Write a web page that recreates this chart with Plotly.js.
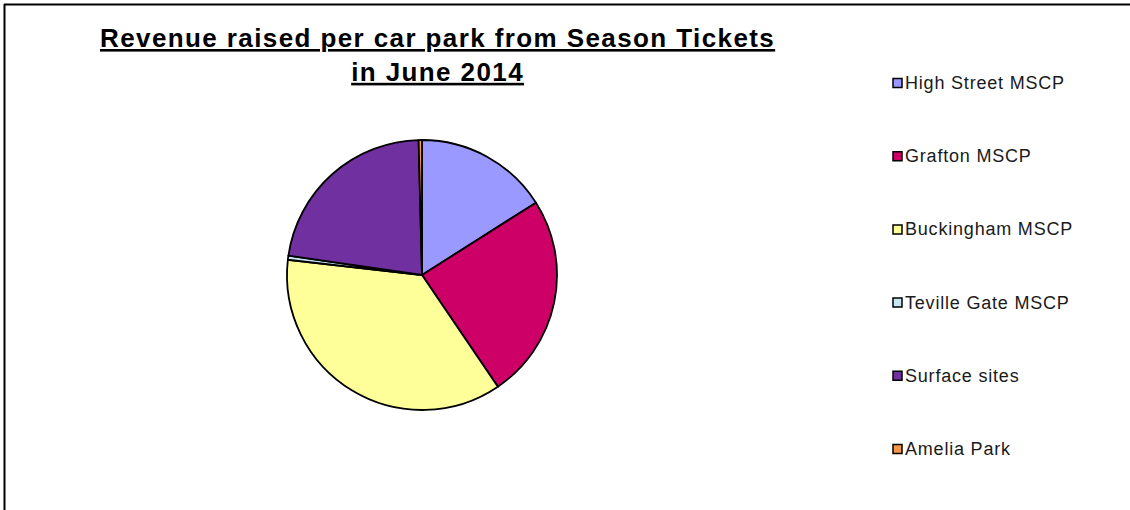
<!DOCTYPE html>
<html>
<head>
<meta charset="utf-8">
<script src="https://cdn.plot.ly/plotly-3.0.1.min.js"></script>
<style>
  html, body { margin: 0; padding: 0; background: #fff; }
  #chart { width: 1130px; height: 510px; }
</style>
</head>
<body>
<div id="chart"></div>
<script>
// Data (share of season-ticket revenue, %)
const categories = ["High Street MSCP", "Grafton MSCP", "Buckingham MSCP", "Teville Gate MSCP", "Surface sites", "Amelia Park"];
const values = [16.0, 24.5, 36.3, 0.5, 22.3, 0.4];
const colors = ["#9999FF", "#CC0066", "#FFFF99", "#C6E6F2", "#7030A0", "#F79646"];
const titleLines = ["Revenue raised per car park from Season Tickets", "in June 2014"];

const W = 1130, H = 510;
const px = x => x / W;
const py = y => 1 - y / H;

// Pie placement
const cx = 422, cy = 275, r = 135;

const shapes = [
  {type: 'line', xref: 'paper', yref: 'paper', x0: px(4), x1: px(1130), y0: py(4.5), y1: py(4.5), line: {color: '#000', width: 2}},
  {type: 'line', xref: 'paper', yref: 'paper', x0: px(4.5), x1: px(4.5), y0: py(4), y1: py(510), line: {color: '#000', width: 2}}
];
const annotations = [];

// Title
annotations.push({
  xref: 'paper', yref: 'paper', x: px(437), y: py(55),
  xanchor: 'center', yanchor: 'middle', showarrow: false,
  text: titleLines.map(t => '<span style="letter-spacing:1.4px"><b><u>' + t + '</u></b></span>').join('<br>'),
  font: {family: 'Liberation Sans, Arial, sans-serif', size: 26, color: '#000'}
});

// Custom legend
const legX = 893, legY0 = 83, legGap = 73.2, sq = 9;
categories.forEach((c, i) => {
  const yc = legY0 + i * legGap;
  shapes.push({type: 'rect', xref: 'paper', yref: 'paper',
    x0: px(legX), x1: px(legX + sq), y0: py(yc - sq / 2), y1: py(yc + sq / 2),
    fillcolor: colors[i], line: {color: '#000', width: 1.5}});
  annotations.push({xref: 'paper', yref: 'paper', x: px(legX + sq + 1), y: py(yc),
    xanchor: 'left', yanchor: 'middle', showarrow: false,
    text: '<span style="letter-spacing:0.8px">' + c + '</span>',
    font: {family: 'Liberation Sans, Arial, sans-serif', size: 18, color: '#1a1a1a'}});
});

const trace = {
  type: 'pie',
  labels: categories,
  values: values,
  sort: false,
  direction: 'clockwise',
  rotation: 0,
  textinfo: 'none',
  hoverinfo: 'label+percent',
  marker: {colors: colors, line: {color: '#000', width: 1.8}},
  domain: {x: [px(cx - r), px(cx + r)], y: [py(cy + r), py(cy - r)]},
  showlegend: false
};

const layout = {
  width: W, height: H,
  margin: {l: 0, r: 0, t: 0, b: 0},
  paper_bgcolor: '#fff',
  showlegend: false,
  shapes: shapes,
  annotations: annotations
};

Plotly.newPlot('chart', [trace], layout, {displayModeBar: false, staticPlot: true});
</script>
</body>
</html>
